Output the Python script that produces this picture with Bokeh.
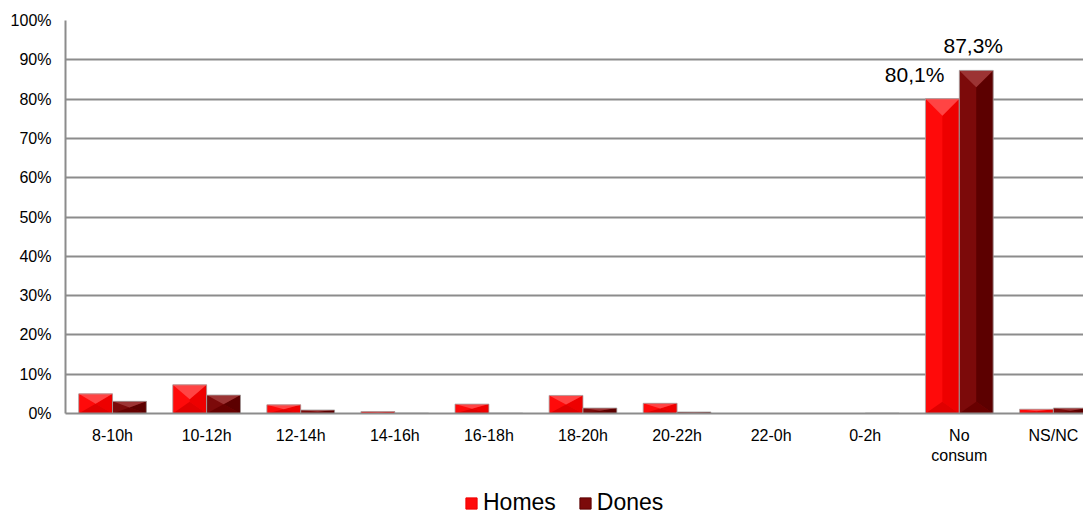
from bokeh.plotting import figure
from bokeh.layouts import column
from bokeh.models import Range1d, FixedTicker, Legend, LegendItem, ColumnDataSource
from bokeh.core.properties import value
from bokeh.embed import file_html
from bokeh.resources import INLINE

categories = ["8-10h", "10-12h", "12-14h", "14-16h", "16-18h", "18-20h",
              "20-22h", "22-0h", "0-2h", "No\nconsum", "NS/NC"]
homes = [5.0, 7.3, 2.2, 0.5, 2.4, 4.6, 2.6, 0.0, 0.0, 80.1, 1.1]
dones = [3.1, 4.7, 0.9, 0.1, 0.1, 1.4, 0.4, 0.0, 0.1, 87.3, 1.4]
series_names = ["Homes", "Dones"]
labelled_category = "No\nconsum"
y_ticks = list(range(0, 101, 10))

FONT = "Liberation Sans"
BW = 0.36
FRAME_W, FRAME_H = 1018, 393
X0, X1 = -0.5, 10.32
idx = list(range(len(categories)))
COLORS = {"Homes": ("#FF0A0A", "#EE0000", "#FF4444", "#E00000"),
          "Dones": ("#7C0A0A", "#5C0000", "#9C3434", "#680000")}
series_values = {"Homes": homes, "Dones": dones}

# pixel -> data conversions for the bevel decoration
px_x = FRAME_W / (X1 - X0)
px_y = FRAME_H / 100.0

p = figure(frame_width=FRAME_W, frame_height=FRAME_H, output_backend="svg",
           toolbar_location=None, x_range=Range1d(X0, X1),
           y_range=Range1d(0, 100), min_border_left=65, min_border_top=20,
           min_border_right=0, min_border_bottom=0)
p.outline_line_color = None
p.background_fill_color = "white"
p.border_fill_color = "white"


def bevel_bars(values, offset, left_col, right_col, top_col, bot_col):
    xs_c = [i + offset for i in idx]
    src = ColumnDataSource(dict(x=xs_c, top=values))
    p.vbar(x="x", top="top", width=BW, source=src, fill_color=left_col,
           line_color=None)
    half_px = BW / 2 * px_x
    rx, ry, tx, ty, bx, by = [], [], [], [], [], []
    for xc, v in zip(xs_c, values):
        if v <= 0:
            continue
        h_px = v * px_y
        dt = min(half_px, h_px / 2) / px_y
        db = min(half_px * 0.7, h_px / 2) / px_y
        l, r = xc - BW / 2, xc + BW / 2
        rx.append([r, xc, xc, r]); ry.append([v, v - dt, db, 0])
        tx.append([l, r, xc]); ty.append([v, v, v - dt])
        bx.append([l, r, xc]); by.append([0, 0, db])
    p.patches(rx, ry, fill_color=right_col, line_color=None)
    p.patches(bx, by, fill_color=bot_col, line_color=None)
    p.patches(tx, ty, fill_color=top_col, line_color=None)
    p.vbar(x="x", top="top", width=BW, source=src, fill_color=None,
           line_color="#A8A8A8", line_alpha=0.8, line_width=1)


bevel_bars(homes, -BW / 2, *COLORS["Homes"])
bevel_bars(dones, BW / 2, *COLORS["Dones"])

# data labels for the highlighted category
k = categories.index(labelled_category)
p.text(x=[k - BW / 2], y=[homes[k]], text=[f"{homes[k]:.1f}%".replace(".", ",")],
       text_align="right", text_baseline="bottom", y_offset=-13, x_offset=2,
       text_font=value(FONT), text_font_size="21px", text_color="black")
p.text(x=[k + BW / 2], y=[dones[k]], text=[f"{dones[k]:.1f}%".replace(".", ",")],
       text_align="center", text_baseline="bottom", y_offset=-13, x_offset=-3,
       text_font=value(FONT), text_font_size="21px", text_color="black")

# axes
p.yaxis.ticker = FixedTicker(ticks=y_ticks)
p.yaxis.major_label_overrides = {t: f"{t}%" for t in y_ticks}
p.xaxis.ticker = FixedTicker(ticks=idx)
p.xaxis.major_label_overrides = {i: c for i, c in zip(idx, categories)}
for ax in (p.xaxis[0], p.yaxis[0]):
    ax.axis_line_color = "#8C8C8C"
    ax.axis_line_width = 2
    ax.major_tick_line_color = None
    ax.minor_tick_line_color = None
    ax.major_label_text_font = FONT
    ax.major_label_text_font_size = "16px"
    ax.major_label_text_color = "black"
p.yaxis.major_label_standoff = 8
p.xaxis.major_label_standoff = 7

p.ygrid.ticker = FixedTicker(ticks=y_ticks[1:])
p.ygrid.grid_line_color = "#8C8C8C"
p.ygrid.grid_line_width = 2
p.xgrid.grid_line_color = None

# legend strip below the chart (series renderers kept out of its view)
pl = figure(width=1083, height=44, output_backend="svg", toolbar_location=None,
            x_axis_type=None, y_axis_type=None, x_range=Range1d(100, 101),
            y_range=Range1d(200, 201), min_border=0)
pl.outline_line_color = None
pl.grid.grid_line_color = None
items = []
for name in series_names:
    r = pl.vbar(x=idx, top=series_values[name], width=BW,
                fill_color=COLORS[name][0], line_color=COLORS[name][1])
    items.append(LegendItem(label=name, renderers=[r]))
legend = Legend(items=items, orientation="horizontal", location=(399, -6),
                label_text_font=FONT, label_text_font_size="23px",
                label_text_color="black",
                glyph_width=14, glyph_height=14, label_standoff=5, spacing=22,
                padding=0, margin=0, border_line_color=None,
                background_fill_alpha=0)
pl.add_layout(legend, "center")

open("out.html", "w").write(file_html(column(p, pl, spacing=0), INLINE))
